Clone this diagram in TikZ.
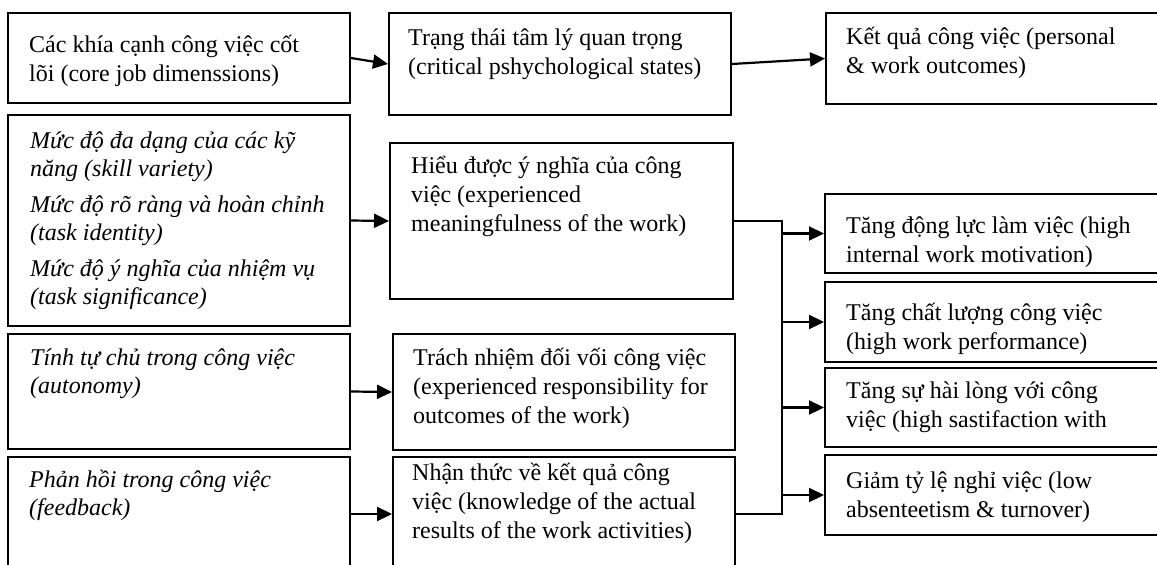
\documentclass[tikz,border=0pt]{standalone}
\usepackage{fontspec}
\setmainfont{Liberation Serif}
\usetikzlibrary{arrows.meta}
\begin{document}
\begin{tikzpicture}[x=1pt,y=-1pt,
  box/.style={draw=black, line width=2pt, inner sep=0pt, anchor=north west},
  txt/.style={anchor=north west, inner sep=0pt, align=left, font=\fontsize{24}{29}\selectfont},
  itxt/.style={anchor=north west, inner sep=0pt, align=left, font=\fontsize{24}{28}\selectfont\itshape},
  arr/.style={line width=2.2pt, -{Triangle[length=15pt,width=14pt]}},
  link/.style={line width=1.6pt}]
\useasboundingbox (0,0) rectangle (1157,565);
\clip (0,0) rectangle (1157,565);
% boxes
\node[box, minimum width=342pt, minimum height=90pt]  (A1) at (7,12) {};
\node[box, minimum width=342pt, minimum height=211pt] (A2) at (7,114) {};
\node[box, minimum width=342pt, minimum height=115pt] (A3) at (7,333) {};
\node[box, minimum width=342pt, minimum height=114pt] (A4) at (7,456) {};
\node[box, minimum width=342pt, minimum height=102pt] (B1) at (388,12) {};
\node[box, minimum width=343pt, minimum height=156pt] (B2) at (389,142) {};
\node[box, minimum width=342pt, minimum height=116pt] (B3) at (392,333) {};
\node[box, minimum width=342pt, minimum height=114pt] (B4) at (392,456) {};
\node[box, minimum width=345pt, minimum height=91pt]  (C1) at (825,12) {};
\node[box, minimum width=346pt, minimum height=79pt]  (C2) at (824,193) {};
\node[box, minimum width=346pt, minimum height=80pt]  (C3) at (824,281) {};
\node[box, minimum width=346pt, minimum height=79pt]  (C4) at (824,367) {};
\node[box, minimum width=346pt, minimum height=80pt]  (C5) at (824,454) {};
% texts
\node[txt] (A1t) at (29,29) {\rule{0pt}{23pt}Các khía cạnh công việc cốt\\lõi (core job dimenssions)};
\node[txt] (B1t) at (408,22) {\rule{0pt}{23pt}Trạng thái tâm lý quan trọng\\(critical pshychological states)};
\node[txt] (C1t) at (846,21) {\rule{0pt}{23pt}Kết quả công việc (personal\\\& work outcomes)};
\node[itxt] (A2t) at (30,125) {\rule{0pt}{23pt}Mức độ đa dạng của các kỹ\\năng (skill variety)\\[8pt]Mức độ rõ ràng và hoàn chỉnh\\(task identity)\\[8pt]Mức độ ý nghĩa của nhiệm vụ\\(task significance)};
\node[txt] (B2t) at (411,150) {\rule{0pt}{23pt}Hiểu được ý nghĩa của công\\việc (experienced\\meaningfulness of the work)};
\node[txt] (C2t) at (846,210) {\rule{0pt}{23pt}Tăng động lực làm việc (high\\internal work motivation)};
\node[txt] (C3t) at (846,297) {\rule{0pt}{23pt}Tăng chất lượng công việc\\(high work performance)};
\node[itxt] (A3t) at (30,342) {\rule{0pt}{23pt}Tính tự chủ trong công việc\\(autonomy)};
\node[txt] (B3t) at (413,342) {\rule{0pt}{23pt}Trách nhiệm đối vối công việc\\(experienced responsibility for\\outcomes of the work)};
\node[txt] (C4t) at (846,375) {\rule{0pt}{23pt}Tăng sự hài lòng với công\\việc (high sastifaction with};
\node[itxt] (A4t) at (29,464) {\rule{0pt}{23pt}Phản hồi trong công việc\\(feedback)};
\node[txt] (B4t) at (412,457) {\rule{0pt}{23pt}Nhận thức về kết quả công\\việc (knowledge of the actual\\results of the work activities)};
\node[txt] (C5t) at (846,465) {\rule{0pt}{23pt}Giảm tỷ lệ nghỉ việc (low\\absenteetism \& turnover)};
% connectors
\draw[arr] (A1.east) -- (B1.west);
\draw[arr] (B1.east) -- (C1.west);
\draw[arr] (A2.east) -- (B2.west);
\draw[arr] (A3.east) -- (B3.west);
\draw[arr] (A4.east) -- (B4.west);
\coordinate (bus) at (782,0);
\draw[link] (B2.east) -| (bus |- B4.east) -- (B4.east);
\draw[arr] (bus |- C2.west) -- (C2.west);
\draw[arr] (bus |- C3.west) -- (C3.west);
\draw[arr] (bus |- C4.west) -- (C4.west);
\draw[arr] (bus |- C5.west) -- (C5.west);
\end{tikzpicture}
\end{document}
